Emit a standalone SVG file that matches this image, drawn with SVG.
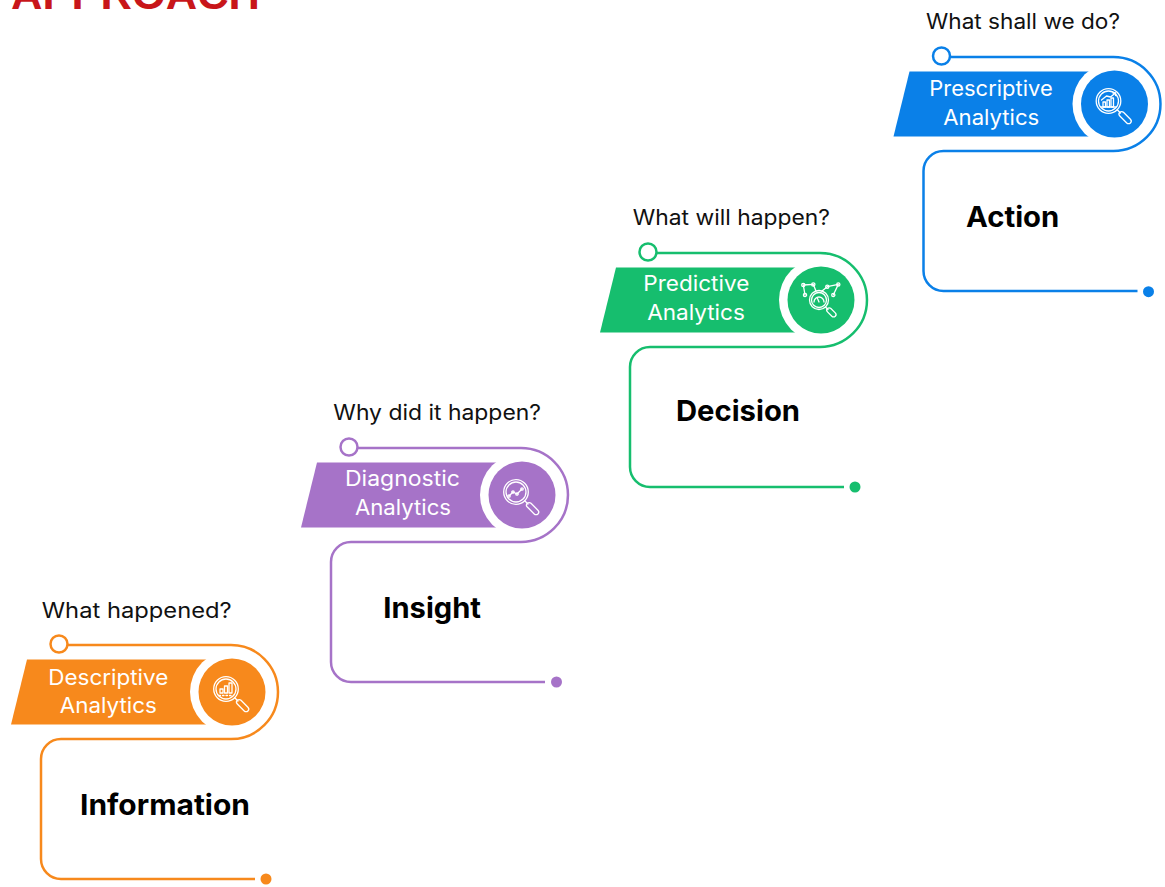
<svg xmlns="http://www.w3.org/2000/svg" width="1165" height="887" viewBox="0 0 1165 887">
<style>
.q{font-family:Inter,"Open Sans","DejaVu Sans",sans-serif;font-size:21px;fill:#111;}
.bt{font-family:Inter,"Open Sans","DejaVu Sans",sans-serif;font-size:21px;fill:#fff;text-anchor:middle;}
.lb{font-family:Inter,"Liberation Sans",sans-serif;font-size:29px;font-weight:700;fill:#000;}
.outline{fill:none;stroke-width:2.5;}
.ic{fill:none;stroke:#fff;stroke-width:1.3;stroke-linecap:round;stroke-linejoin:round;}
.orange{--c:#F7891C;}
</style>
<defs>
<path id="route" d="M 8.5 1 H 172 A 47 47 0 0 1 172 95 H 2 A 20 20 0 0 0 -18 115 V 215 A 20 20 0 0 0 2 235 H 196"/>
<polygon id="banner" points="-32,15.5 173,15.5 173,80.5 -48,80.5"/>
<g id="lens">
<circle cx="-6" cy="-3" r="12.3"/>
<circle cx="-6" cy="-3" r="10"/>
<line x1="2.7" y1="5.7" x2="6" y2="9"/>
<rect x="16" y="-2.6" width="15" height="5.2" rx="2.6" transform="translate(-6,-3) rotate(45)"/>
</g>
</defs>
<text x="11" y="9" font-family="'Liberation Sans',Arial,sans-serif" font-weight="700" font-size="43" fill="#C8161A" textLength="249" lengthAdjust="spacingAndGlyphs">APPROACH</text>

<g id="descriptive" transform="translate(59,644)">
<text class="q" x="-17.3" y="-25.7" textLength="190" lengthAdjust="spacingAndGlyphs">What happened?</text>
<use href="#route" class="outline" stroke="#F7891C"/>
<circle cx="0" cy="0" r="8.5" fill="#fff" stroke="#F7891C" stroke-width="2.5"/>
<circle cx="207" cy="235" r="5.5" fill="#F7891C"/>
<use href="#banner" fill="#F7891C"/>
<circle cx="173" cy="48" r="42" fill="#fff"/>
<circle cx="173" cy="48" r="33.5" fill="#F7891C"/>
<text class="bt" x="49.3" y="40.5" textLength="120" lengthAdjust="spacingAndGlyphs">Descriptive</text>
<text class="bt" x="49.3" y="69" textLength="97" lengthAdjust="spacingAndGlyphs">Analytics</text>
<g transform="translate(173,48)" class="ic">
<use href="#lens"/>
<rect x="-12" y="-3" width="3" height="4"/>
<rect x="-7.5" y="-6" width="3" height="7"/>
<rect x="-3" y="-9" width="3" height="10"/>
<line x1="-13" y1="3.5" x2="1" y2="3.5" stroke-dasharray="1.5 2"/>
</g>
<text class="lb" x="21" y="171" textLength="170" lengthAdjust="spacingAndGlyphs">Information</text>
</g>

<g id="diagnostic" transform="translate(349,447)">
<text class="q" x="-15.7" y="-27" textLength="207.7" lengthAdjust="spacingAndGlyphs">Why did it happen?</text>
<use href="#route" class="outline" stroke="#A673C8"/>
<circle cx="0" cy="0" r="8.5" fill="#fff" stroke="#A673C8" stroke-width="2.5"/>
<circle cx="207.5" cy="235" r="5.5" fill="#A673C8"/>
<use href="#banner" fill="#A673C8"/>
<circle cx="173" cy="48" r="42" fill="#fff"/>
<circle cx="173" cy="48" r="33.5" fill="#A673C8"/>
<text class="bt" x="53.5" y="38.7" textLength="115" lengthAdjust="spacingAndGlyphs">Diagnostic</text>
<text class="bt" x="54" y="68" textLength="96" lengthAdjust="spacingAndGlyphs">Analytics</text>
<g transform="translate(173,48)" class="ic">
<use href="#lens"/>
<polyline points="-13,1 -9,-3 -5,-1 0,-6"/>
<circle cx="-13" cy="1" r="1.2"/>
<circle cx="-9" cy="-3" r="1.2"/>
<circle cx="-5" cy="-1" r="1.2"/>
<circle cx="0" cy="-6" r="1.2"/>
</g>
<text class="lb" x="34.3" y="170.7" textLength="97.7" lengthAdjust="spacingAndGlyphs">Insight</text>
</g>

<g id="predictive" transform="translate(648,252)">
<text class="q" x="-15.3" y="-27" textLength="197.3" lengthAdjust="spacingAndGlyphs">What will happen?</text>
<use href="#route" class="outline" stroke="#16BE6E"/>
<circle cx="0" cy="0" r="8.5" fill="#fff" stroke="#16BE6E" stroke-width="2.5"/>
<circle cx="207" cy="235" r="5.5" fill="#16BE6E"/>
<use href="#banner" fill="#16BE6E"/>
<circle cx="173" cy="48" r="42" fill="#fff"/>
<circle cx="173" cy="48" r="33.5" fill="#16BE6E"/>
<text class="bt" x="48.3" y="38.7" textLength="106" lengthAdjust="spacingAndGlyphs">Predictive</text>
<text class="bt" x="48" y="68" textLength="97.7" lengthAdjust="spacingAndGlyphs">Analytics</text>
<g transform="translate(173,48)" class="ic">
<circle cx="-2" cy="0" r="9.5"/>
<circle cx="-2" cy="0" r="7.5"/>
<path d="M -7 2 A 5 5 0 0 1 3 2"/>
<line x1="-2" y1="2" x2="-3.5" y2="-1.5"/>
<line x1="4.5" y1="7" x2="7" y2="9.5"/>
<rect x="12" y="-2.4" width="11" height="4.8" rx="2.4" transform="translate(-2,0) rotate(45)"/>
<polyline points="-16,-5 -17.7,-15 -7.7,-15.6 -5,-9"/>
<polyline points="1,-9 6.3,-13.3 17.3,-15.6 12.3,-5"/>
<circle cx="-17.7" cy="-15" r="1.6"/>
<circle cx="-7.7" cy="-15.6" r="1.6"/>
<circle cx="6.3" cy="-13.3" r="1.6"/>
<circle cx="17.3" cy="-15.6" r="1.6"/>
<circle cx="-16" cy="-5" r="1.6"/>
<circle cx="12.3" cy="-5" r="1.6"/>
</g>
<text class="lb" x="28" y="168.7" textLength="124" lengthAdjust="spacingAndGlyphs">Decision</text>
</g>

<g id="prescriptive" transform="translate(941.5,56)">
<text class="q" x="-15.5" y="-26.7" textLength="194" lengthAdjust="spacingAndGlyphs">What shall we do?</text>
<use href="#route" class="outline" stroke="#0A80E8"/>
<circle cx="0" cy="0" r="8.5" fill="#fff" stroke="#0A80E8" stroke-width="2.5"/>
<circle cx="207" cy="235.7" r="5.5" fill="#0A80E8"/>
<use href="#banner" fill="#0A80E8"/>
<circle cx="173" cy="48" r="42" fill="#fff"/>
<circle cx="173" cy="48" r="33.5" fill="#0A80E8"/>
<text class="bt" x="49.5" y="40" textLength="123.4" lengthAdjust="spacingAndGlyphs">Prescriptive</text>
<text class="bt" x="49.8" y="69" textLength="96" lengthAdjust="spacingAndGlyphs">Analytics</text>
<g transform="translate(173,48)" class="ic">
<use href="#lens"/>
<line x1="-13" y1="3" x2="1" y2="3"/>
<rect x="-11.5" y="-2" width="2.5" height="5"/>
<rect x="-7.5" y="-4" width="2.5" height="7"/>
<rect x="-3.5" y="-6" width="2.5" height="9"/>
<polyline points="-13,-4 -8,-8 -4,-7 1,-11"/>
<polyline points="-1.5,-11 1,-11 1,-8.5"/>
</g>
<text class="lb" x="24.5" y="170.7" textLength="93.3" lengthAdjust="spacingAndGlyphs">Action</text>
</g>
</svg>
